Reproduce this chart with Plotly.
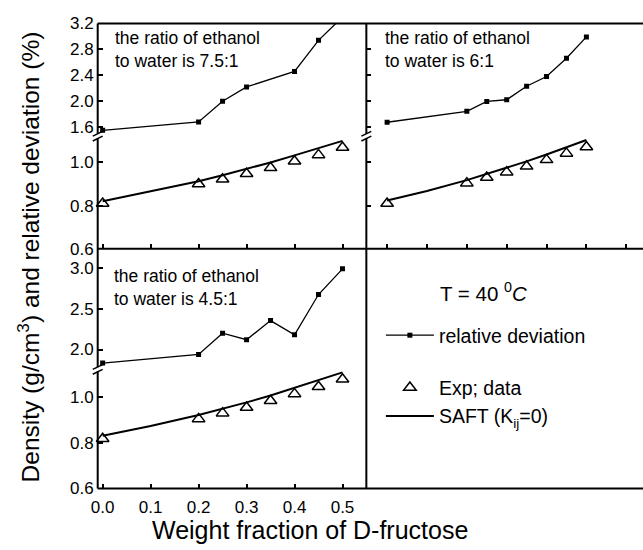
import plotly.graph_objects as go

W, H = 643, 550

def fx(px):
    return px / W

def fy(py):
    return 1 - py / H

# ---------------- data ----------------
x_exp = [0.0, 0.2, 0.25, 0.3, 0.35, 0.4, 0.45, 0.5]
x_saft = [0.0, 0.1, 0.2, 0.25, 0.3, 0.35, 0.4, 0.45, 0.5]

# ethanol : water = 7.5 : 1
x_rd_75 = [0.0, 0.2, 0.25, 0.3, 0.4, 0.45, 0.5]
rd_75 = [1.55, 1.68, 2.00, 2.22, 2.46, 2.94, 3.30]
exp_75 = [0.810, 0.900, 0.922, 0.948, 0.975, 1.006, 1.035, 1.069]
saft_75 = [0.820, 0.865, 0.913, 0.941, 0.970, 1.000, 1.033, 1.066, 1.100]

# ethanol : water = 6 : 1
x_rd_60 = [0.0, 0.2, 0.25, 0.3, 0.35, 0.4, 0.45, 0.5]
rd_60 = [1.675, 1.843, 1.997, 2.022, 2.231, 2.380, 2.664, 2.993]
exp_60 = [0.810, 0.904, 0.930, 0.955, 0.982, 1.012, 1.042, 1.072]
saft_60 = [0.824, 0.868, 0.918, 0.946, 0.975, 1.005, 1.037, 1.070, 1.104]

# ethanol : water = 4.5 : 1
x_rd_45 = [0.0, 0.2, 0.25, 0.3, 0.35, 0.4, 0.45, 0.5]
rd_45 = [1.834, 1.940, 2.200, 2.120, 2.355, 2.180, 2.675, 2.990]
exp_45 = [0.817, 0.904, 0.929, 0.954, 0.983, 1.013, 1.044, 1.077]
saft_45 = [0.830, 0.873, 0.921, 0.947, 0.976, 1.006, 1.040, 1.074, 1.107]

panel_labels = ["the ratio of ethanol<br>to water is 7.5:1",
                "the ratio of ethanol<br>to water is 6:1",
                "the ratio of ethanol<br>to water is 4.5:1"]

x_ticks_left = [0.0, 0.1, 0.2, 0.3, 0.4, 0.5]
x_ticks_right = [0.0, 0.1, 0.2, 0.3, 0.4, 0.5, 0.6]
y_low_ticks = [0.6, 0.8, 1.0]
y_up_ticks_top = [1.6, 2.0, 2.4, 2.8, 3.2]
y_up_ticks_bot = [2.0, 2.5, 3.0]

# ---------------- geometry (pixels) ----------------
XL0, XM, XR = 91.7, 363.3, 643.0
YT, YM, YB = 15.0, 248.3, 496.7
BRK_T, BRK_B = 131.7, 373.3

FONT = "Liberation Sans, Arial, sans-serif"
BLACK = "#000000"

fig = go.Figure()

panels = [
    ("x", "y", "y2", x_rd_75, rd_75, exp_75, saft_75, True),
    ("x2", "y3", "y4", x_rd_60, rd_60, exp_60, saft_60, False),
    ("x3", "y5", "y6", x_rd_45, rd_45, exp_45, saft_45, False),
]

for xa, ylo, yup, xr, rd, ex, sa, sl in panels:
    fig.add_trace(go.Scatter(
        x=xr, y=rd, xaxis=xa, yaxis=yup, mode="lines+markers",
        line=dict(color=BLACK, width=1.3),
        marker=dict(symbol="square", size=5, color=BLACK),
        name="relative deviation", showlegend=sl, legendgroup="a"))
    fig.add_trace(go.Scatter(
        x=x_exp, y=ex, xaxis=xa, yaxis=ylo, mode="markers",
        marker=dict(symbol="triangle-up-open", size=11, color=BLACK,
                    line=dict(width=1.5, color=BLACK)),
        cliponaxis=False,
        name="Exp; data", showlegend=sl, legendgroup="b"))
    fig.add_trace(go.Scatter(
        x=x_saft, y=sa, xaxis=xa, yaxis=ylo, mode="lines",
        line=dict(color=BLACK, width=2),
        name="SAFT (K<sub>ij</sub>=0)", showlegend=sl, legendgroup="b"))

tick_common = dict(ticks="inside", ticklen=5, tickwidth=1.5, tickcolor=BLACK,
                   showgrid=False, zeroline=False, showline=False,
                   tickfont=dict(family=FONT, size=17, color=BLACK))

left_x_range = [-0.0103, 0.5497]
right_x_range = [-0.0521, 0.642]

layout = dict(
    width=W, height=H, margin=dict(l=0, r=0, t=0, b=0),
    paper_bgcolor="white", plot_bgcolor="white",
    font=dict(family=FONT, color=BLACK),
    xaxis=dict(domain=[fx(XL0), fx(XM)], range=left_x_range, anchor="y",
               tickvals=x_ticks_left, showticklabels=False, **tick_common),
    xaxis2=dict(domain=[fx(XM), fx(XR)], range=right_x_range, anchor="y3",
                tickvals=x_ticks_right, showticklabels=False, **tick_common),
    xaxis3=dict(domain=[fx(XL0), fx(XM)], range=left_x_range, anchor="y5",
                tickvals=x_ticks_left, tickformat=".1f", ticklabelstandoff=6,
                **tick_common),
    xaxis4=dict(domain=[fx(XM), fx(XR)], range=right_x_range, anchor="y7",
                tickvals=x_ticks_right, tickformat=".1f", ticklabelstandoff=6,
                **tick_common),
    yaxis=dict(domain=[fy(YM), fy(BRK_T)], range=[0.6, 1.122], anchor="x",
               tickvals=y_low_ticks, tickformat=".1f", ticklabelstandoff=3,
               **tick_common),
    yaxis2=dict(domain=[fy(BRK_T), fy(YT)], range=[1.46, 3.2], anchor="x",
                tickvals=y_up_ticks_top, tickformat=".1f", ticklabelstandoff=3,
                **tick_common),
    yaxis3=dict(domain=[fy(YM), fy(BRK_T)], range=[0.6, 1.122], anchor="x2",
                tickvals=y_low_ticks, showticklabels=False, **tick_common),
    yaxis4=dict(domain=[fy(BRK_T), fy(YT)], range=[1.46, 3.2], anchor="x2",
                tickvals=y_up_ticks_top, showticklabels=False, **tick_common),
    yaxis5=dict(domain=[fy(YB), fy(BRK_B)], range=[0.6, 1.12], anchor="x3",
                tickvals=y_low_ticks, tickformat=".1f", ticklabelstandoff=3,
                **tick_common),
    yaxis6=dict(domain=[fy(BRK_B), fy(YM)], range=[1.756, 3.237], anchor="x3",
                tickvals=y_up_ticks_bot, tickformat=".1f", ticklabelstandoff=3,
                **tick_common),
    yaxis7=dict(domain=[fy(YB), fy(YM)], range=[0, 1], anchor="x4",
                showticklabels=False, ticks="", showgrid=False,
                zeroline=False, showline=False),
    showlegend=True,
    legend=dict(x=fx(378), y=fy(318), xanchor="left", yanchor="top",
                font=dict(family=FONT, size=19.5, color=BLACK),
                bgcolor="rgba(0,0,0,0)", traceorder="grouped",
                tracegroupgap=24, itemwidth=48),
)
fig.update_layout(**layout)

# frame lines
LW = 2
frame = [
    (XL0, YT, XR, YT), (XL0, YB, XR, YB), (XL0, YM, XR, YM),
    (XL0, YT, XL0, YB), (XM, YT, XM, YB),
]
shapes = []
for x0, y0, x1, y1 in frame:
    shapes.append(dict(type="line", xref="paper", yref="paper",
                       x0=fx(x0), y0=fy(y0), x1=fx(x1), y1=fy(y1),
                       line=dict(color=BLACK, width=LW)))

# axis break marks
for bx, by in [(XL0, BRK_T), (XM, BRK_T), (XL0, BRK_B)]:
    shapes.append(dict(type="rect", xref="paper", yref="paper",
                       x0=fx(bx - 2), x1=fx(bx + 2), y0=fy(by + 2), y1=fy(by - 2.5),
                       fillcolor="white", line=dict(width=0)))
    for off in (-2.5, 2.5):
        shapes.append(dict(type="line", xref="paper", yref="paper",
                           x0=fx(bx - 5), y0=fy(by + off + 2.5),
                           x1=fx(bx + 5), y1=fy(by + off - 2.5),
                           line=dict(color=BLACK, width=1.5)))
fig.update_layout(shapes=shapes)

annotations = []
for (lx, ly), txt in zip([(107, 41.5), (380, 41.5), (106, 288)], panel_labels):
    annotations.append(dict(x=fx(lx), y=fy(ly), xref="paper", yref="paper",
                            text=txt, showarrow=False, xanchor="left",
                            yanchor="middle", align="left",
                            font=dict(family=FONT, size=17.5, color=BLACK)))
annotations.append(dict(x=fx(436), y=fy(293), xref="paper", yref="paper",
                        text="T = 40 <sup>0</sup><i>C</i>", showarrow=False,
                        xanchor="left", yanchor="middle",
                        font=dict(family=FONT, size=20.5, color=BLACK)))
annotations.append(dict(x=fx(22), y=fy(256.5), xref="paper", yref="paper",
                        text="Density (g/cm<sup>3</sup>) and relative deviation (%)",
                        textangle=-90, showarrow=False,
                        xanchor="center", yanchor="middle",
                        font=dict(family=FONT, size=24.5, color=BLACK)))
annotations.append(dict(x=fx(306.5), y=fy(539.5), xref="paper", yref="paper",
                        text="Weight fraction of D-fructose", showarrow=False,
                        xanchor="center", yanchor="middle",
                        font=dict(family=FONT, size=25, color=BLACK)))
fig.update_layout(annotations=annotations)

fig.write_html("out.html")
